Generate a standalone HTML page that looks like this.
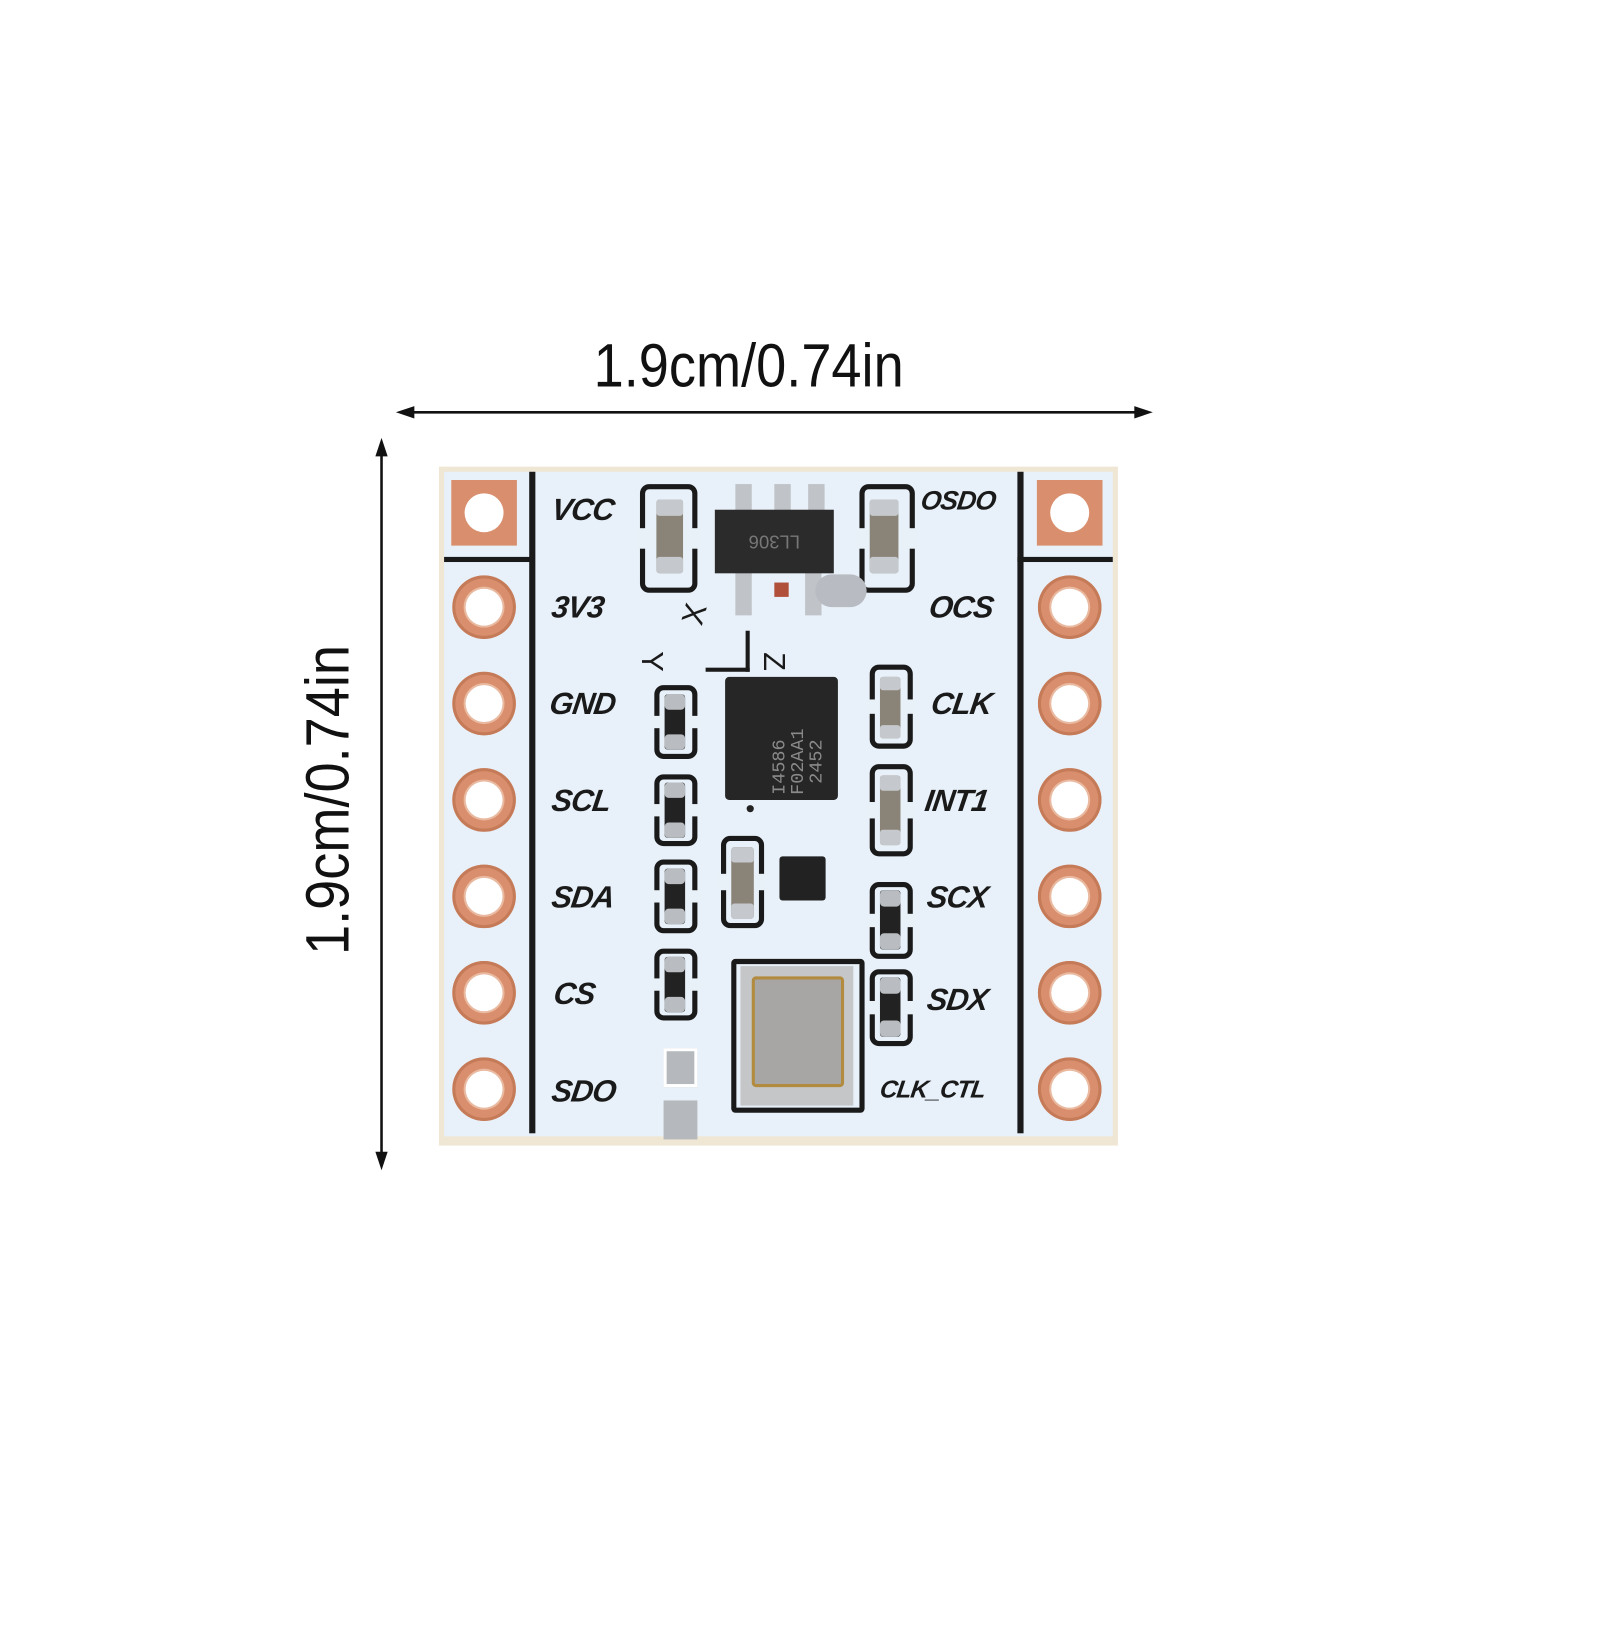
<!DOCTYPE html>
<html><head><meta charset="utf-8"><style>
body{margin:0;width:1600px;height:1600px;background:#fff;position:relative;overflow:hidden;font-family:"Liberation Sans",sans-serif}
#w{position:absolute;left:0;top:0;width:1600px;height:1600px;transform:scale(1.0256);transform-origin:0 0}
.a{position:absolute}
.pad{position:absolute;width:62px;height:62px;border-radius:50%;background:#d98f6e;box-shadow:inset 0 0 0 3px #c57a58}
.pad::after{content:"";position:absolute;left:13px;top:13px;width:36px;height:36px;border-radius:50%;background:#fff;box-shadow:0 0 0 2px #e9b9a0}
.sq{position:absolute;width:64px;height:64px;background:#d98f6e}
.sq::after{content:"";position:absolute;left:13px;top:13px;width:38px;height:38px;border-radius:50%;background:#fff}
.lbl{position:absolute;font-weight:bold;font-style:italic;font-size:30px;color:#1a1a1a;letter-spacing:-1px;line-height:30px;transform:skewX(-8deg)}
.ol{position:absolute;border:5px solid #1a1a1a;border-radius:9px;box-sizing:border-box}
.ol::before{content:"";position:absolute;left:-8px;right:-8px;top:40%;height:20%;background:#e8f1f8}
.res{position:absolute;background:#222;border-radius:3px}
.res::before,.res::after{content:"";position:absolute;left:0;right:0;height:28%;background:#b9bcc0;border-radius:4px}
.res::before{top:0}.res::after{bottom:0}
.cap{position:absolute;background:#8a8478;border-radius:3px}
.cap::before,.cap::after{content:"";position:absolute;left:0;right:0;height:22%;background:#c5c8cc;border-radius:3px}
.cap::before{top:0}.cap::after{bottom:0}
</style></head><body><div id="w">
<div class="a" style="left:530px;top:322px;width:400px;text-align:center;font-size:60px;line-height:70px;color:#111;transform:scaleX(0.88)">1.9cm/0.74in</div>
<svg class="a" style="left:0;top:0" width="1600" height="1600">
<line x1="395" y1="402" x2="1115" y2="402" stroke="#111" stroke-width="2.5"/>
<polygon points="386,402 404,396 404,408" fill="#111"/>
<polygon points="1124,402 1106,396 1106,408" fill="#111"/>
<line x1="372" y1="436" x2="372" y2="1132" stroke="#111" stroke-width="2.5"/>
<polygon points="372,427 366,445 378,445" fill="#111"/>
<polygon points="372,1141 366,1123 378,1123" fill="#111"/>
</svg>
<div class="a" style="left:120px;top:745px;width:400px;text-align:center;font-size:60px;line-height:70px;color:#111;transform:rotate(-90deg) scaleX(0.88)">1.9cm/0.74in</div>
<div class="a" style="left:428px;top:455px;width:662px;height:662px;background:#f0e6d4"></div>
<div class="a" style="left:433px;top:460px;width:652px;height:648px;background:#e8f1f9"></div>
<div class="a" style="left:516px;top:460px;width:6px;height:645px;background:#1a1a1a"></div>
<div class="a" style="left:992px;top:460px;width:6px;height:645px;background:#1a1a1a"></div>
<div class="a" style="left:433px;top:543px;width:88px;height:5px;background:#1a1a1a"></div>
<div class="a" style="left:992px;top:543px;width:93px;height:5px;background:#1a1a1a"></div>
<div class="sq" style="left:440px;top:468px"></div>
<div class="sq" style="left:1011px;top:468px"></div>
<div class="pad" style="left:441px;top:561px"></div><div class="pad" style="left:441px;top:655px"></div><div class="pad" style="left:441px;top:749px"></div><div class="pad" style="left:441px;top:843px"></div><div class="pad" style="left:441px;top:937px"></div><div class="pad" style="left:441px;top:1031px"></div>
<div class="pad" style="left:1012px;top:561px"></div><div class="pad" style="left:1012px;top:655px"></div><div class="pad" style="left:1012px;top:749px"></div><div class="pad" style="left:1012px;top:843px"></div><div class="pad" style="left:1012px;top:937px"></div><div class="pad" style="left:1012px;top:1031px"></div>
<div class="lbl" style="left:538px;top:483px">VCC</div>
<div class="lbl" style="left:538px;top:578px">3V3</div>
<div class="lbl" style="left:536px;top:672px">GND</div>
<div class="lbl" style="left:538px;top:767px">SCL</div>
<div class="lbl" style="left:538px;top:861px">SDA</div>
<div class="lbl" style="left:540px;top:955px">CS</div>
<div class="lbl" style="left:538px;top:1050px">SDO</div>
<div class="lbl" style="left:898px;top:473px;font-size:26px">OSDO</div>
<div class="lbl" style="left:906px;top:578px">OCS</div>
<div class="lbl" style="left:908px;top:672px">CLK</div>
<div class="lbl" style="left:902px;top:767px">INT1</div>
<div class="lbl" style="left:904px;top:861px">SCX</div>
<div class="lbl" style="left:904px;top:961px">SDX</div>
<div class="lbl" style="left:858px;top:1048px;font-size:24px">CLK_CTL</div>
<div class="ol" style="left:624px;top:472px;width:56px;height:106px"></div>
<div class="cap" style="left:640px;top:487px;width:26px;height:72px"></div>
<div class="ol" style="left:838px;top:472px;width:54px;height:106px"></div>
<div class="cap" style="left:848px;top:487px;width:28px;height:72px"></div>
<div class="a" style="left:717px;top:472px;width:16px;height:30px;background:#c0c3c7"></div>
<div class="a" style="left:755px;top:472px;width:16px;height:30px;background:#c0c3c7"></div>
<div class="a" style="left:788px;top:472px;width:16px;height:30px;background:#c0c3c7"></div>
<div class="a" style="left:717px;top:555px;width:16px;height:45px;background:#c0c3c7"></div>
<div class="a" style="left:785px;top:555px;width:16px;height:45px;background:#c0c3c7"></div>
<div class="a" style="left:697px;top:497px;width:116px;height:62px;background:#2b2b2b;color:#777;font-size:18px;line-height:62px;text-align:center;transform:rotate(180deg)">LL306</div>
<div class="a" style="left:795px;top:560px;width:50px;height:32px;background:#b8bcc2;border-radius:16px"></div>
<div class="a" style="left:755px;top:568px;width:14px;height:14px;background:#b0503a"></div>
<div class="a" style="left:668px;top:582px;font-size:30px;color:#1a1a1a;transform:rotate(-75deg)">X</div>
<div class="a" style="left:625px;top:628px;font-size:30px;color:#1a1a1a;transform:rotate(90deg)">Y</div>
<div class="a" style="left:745px;top:628px;font-size:30px;color:#1a1a1a;transform:rotate(90deg)">Z</div>
<div class="a" style="left:727px;top:615px;width:4px;height:40px;background:#1a1a1a"></div>
<div class="a" style="left:688px;top:651px;width:43px;height:4px;background:#1a1a1a"></div>
<div class="a" style="left:707px;top:660px;width:110px;height:120px;background:#262626;border-radius:4px"></div>
<div class="a" style="left:712px;top:705px;width:110px;height:30px;color:#8a8a8a;font-size:18px;line-height:18px;transform:rotate(-90deg);font-family:'Liberation Mono',monospace">I4586<br>F02AA1<br>&nbsp;2452</div>
<div class="a" style="left:728px;top:785px;width:7px;height:7px;border-radius:50%;background:#222"></div>
<div class="ol" style="left:638px;top:668px;width:42px;height:72px"></div><div class="res" style="left:648px;top:677px;width:20px;height:54px"></div>
<div class="ol" style="left:638px;top:755px;width:42px;height:70px"></div><div class="res" style="left:648px;top:763px;width:20px;height:54px"></div>
<div class="ol" style="left:638px;top:838px;width:42px;height:72px"></div><div class="res" style="left:648px;top:847px;width:20px;height:54px"></div>
<div class="ol" style="left:638px;top:925px;width:42px;height:70px"></div><div class="res" style="left:648px;top:933px;width:20px;height:54px"></div>
<div class="ol" style="left:848px;top:648px;width:42px;height:82px"></div><div class="cap" style="left:858px;top:660px;width:20px;height:60px"></div>
<div class="ol" style="left:848px;top:745px;width:42px;height:90px"></div><div class="cap" style="left:858px;top:756px;width:20px;height:68px"></div>
<div class="ol" style="left:848px;top:860px;width:42px;height:75px"></div><div class="res" style="left:858px;top:868px;width:20px;height:58px"></div>
<div class="ol" style="left:848px;top:945px;width:42px;height:75px"></div><div class="res" style="left:858px;top:953px;width:20px;height:58px"></div>
<div class="ol" style="left:703px;top:815px;width:42px;height:90px"></div><div class="cap" style="left:713px;top:826px;width:22px;height:70px"></div>
<div class="a" style="left:760px;top:835px;width:45px;height:43px;background:#222;border-radius:3px"></div>
<div class="a" style="left:713px;top:935px;width:130px;height:150px;border:5px solid #1a1a1a;box-sizing:border-box;border-radius:4px"></div>
<div class="a" style="left:722px;top:942px;width:110px;height:136px;background:#c4c6c8"></div>
<div class="a" style="left:733px;top:952px;width:90px;height:108px;background:#a7a6a4;border:3px solid #b38b3e;border-radius:4px;box-sizing:border-box"></div>
<div class="a" style="left:647px;top:1022px;width:33px;height:38px;background:#b5b8bc;border:3px solid #fff;box-sizing:border-box"></div>
<div class="a" style="left:647px;top:1073px;width:33px;height:38px;background:#b5b8bc"></div>
</div></body></html>
